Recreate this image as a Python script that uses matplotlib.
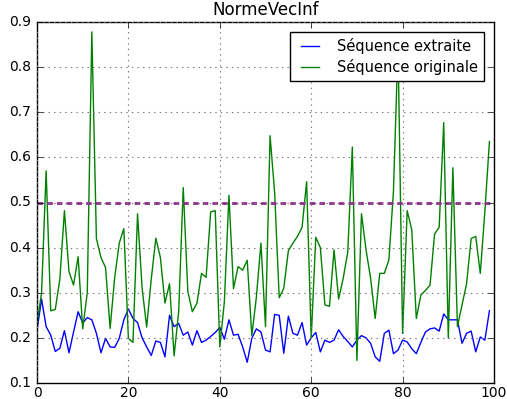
import matplotlib

matplotlib.use("Agg")
import matplotlib.pyplot as plt
import numpy as np

plt.style.use("classic")

# norme infinie par trame, 100 trames
extraite = [
    0.217, 0.286, 0.225, 0.206, 0.170, 0.177, 0.216, 0.167, 0.213, 0.258,
    0.233, 0.245, 0.240, 0.210, 0.167, 0.199, 0.180, 0.179, 0.199, 0.240,
    0.264, 0.243, 0.234, 0.200, 0.180, 0.161, 0.193, 0.190, 0.158, 0.250,
    0.225, 0.232, 0.206, 0.213, 0.184, 0.216, 0.190, 0.195, 0.203, 0.212,
    0.223, 0.197, 0.240, 0.206, 0.208, 0.180, 0.146, 0.199, 0.220, 0.213,
    0.173, 0.169, 0.252, 0.250, 0.166, 0.248, 0.210, 0.206, 0.234, 0.184,
    0.200, 0.212, 0.169, 0.195, 0.190, 0.195, 0.218, 0.203, 0.192, 0.180,
    0.195, 0.205, 0.200, 0.188, 0.158, 0.148, 0.210, 0.217, 0.165, 0.173,
    0.195, 0.191, 0.176, 0.165, 0.190, 0.213, 0.220, 0.222, 0.215, 0.253,
    0.240, 0.240, 0.240, 0.188, 0.210, 0.215, 0.169, 0.202, 0.195, 0.260,
]
originale = [
    0.230, 0.300, 0.570, 0.260, 0.263, 0.330, 0.482, 0.347, 0.317, 0.380,
    0.220, 0.300, 0.878, 0.420, 0.378, 0.356, 0.221, 0.334, 0.410, 0.442,
    0.199, 0.190, 0.475, 0.310, 0.224, 0.330, 0.421, 0.378, 0.277, 0.320,
    0.160, 0.258, 0.533, 0.303, 0.258, 0.277, 0.343, 0.334, 0.479, 0.482,
    0.180, 0.280, 0.516, 0.309, 0.358, 0.350, 0.372, 0.205, 0.290, 0.410,
    0.225, 0.648, 0.522, 0.289, 0.310, 0.393, 0.410, 0.425, 0.445, 0.546,
    0.199, 0.423, 0.400, 0.273, 0.270, 0.395, 0.286, 0.332, 0.390, 0.623,
    0.150, 0.475, 0.395, 0.332, 0.243, 0.343, 0.343, 0.373, 0.525, 0.850,
    0.210, 0.482, 0.440, 0.243, 0.295, 0.305, 0.317, 0.430, 0.445, 0.677,
    0.200, 0.577, 0.225, 0.273, 0.320, 0.420, 0.425, 0.343, 0.480, 0.635,
]
seuil = 0.5

fig = plt.figure(figsize=(5.07, 3.99), dpi=100, facecolor="white")
ax = fig.add_axes([37 / 507, 16 / 399, 457 / 507, 361 / 399])

x = np.arange(len(extraite))
ax.plot(x, extraite, color="b", lw=1.0, label="Séquence extraite")
ax.plot(x, originale, color="g", lw=1.0, label="Séquence originale")
ax.axhline(seuil, color="#8e2c8e", lw=2.0, ls="--", dashes=(4, 3))

ax.set_xlim(0, 100)
ax.set_ylim(0.1, 0.9)
ax.set_xticks(range(0, 101, 20))
ax.set_yticks(np.arange(0.1, 0.91, 0.1))
ax.tick_params(labelsize=10)
ax.tick_params(axis="x", pad=2)
ax.grid(True, color="#777777", ls=":", lw=0.8)
ax.set_title("NormeVecInf", fontsize=12)
ax.legend(loc="upper right", fontsize=10.5, handlelength=1.9, borderpad=0.4,
          labelspacing=0.35, handletextpad=0.9, borderaxespad=0.7,
          framealpha=1.0)

fig.savefig("out.png", dpi=100, facecolor="white")
